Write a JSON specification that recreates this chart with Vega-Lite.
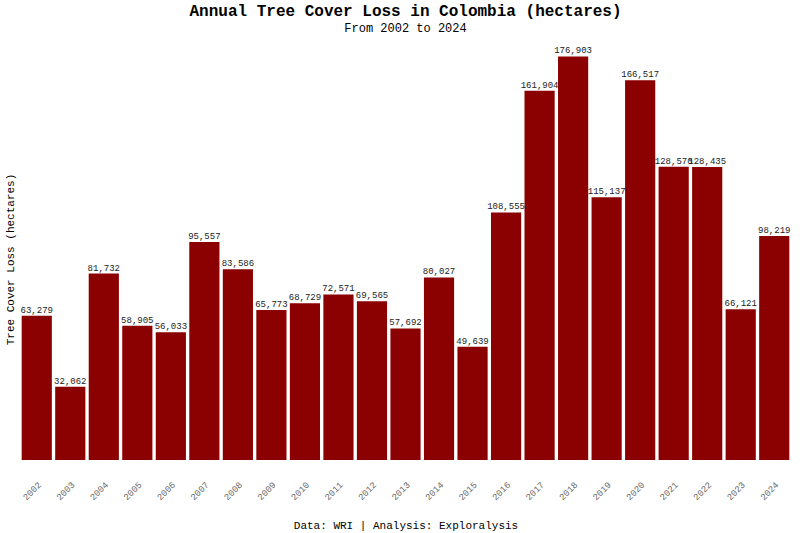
{
  "$schema": "https://vega.github.io/schema/vega-lite/v6.json",
  "autosize": {"type": "none"},
  "width": 769,
  "height": 422,
  "padding": {"left": 21, "top": 38, "right": 10, "bottom": 73},
  "background": "white",
  "title": {
    "text": "Annual Tree Cover Loss in Colombia (hectares)",
    "subtitle": "From 2002 to 2024",
    "font": "Liberation Mono",
    "fontSize": 16,
    "fontWeight": "bold",
    "color": "#000000",
    "subtitleFont": "Liberation Mono",
    "subtitleFontSize": 12,
    "subtitleColor": "#000000",
    "subtitlePadding": 4,
    "anchor": "middle",
    "offset": 4
  },
  "config": {
    "font": "Liberation Mono",
    "view": {"stroke": null}
  },
  "data": {
    "values": [
      {"year": "2002", "loss": 63279},
      {"year": "2003", "loss": 32062},
      {"year": "2004", "loss": 81732},
      {"year": "2005", "loss": 58905},
      {"year": "2006", "loss": 56033},
      {"year": "2007", "loss": 95557},
      {"year": "2008", "loss": 83586},
      {"year": "2009", "loss": 65773},
      {"year": "2010", "loss": 68729},
      {"year": "2011", "loss": 72571},
      {"year": "2012", "loss": 69565},
      {"year": "2013", "loss": 57692},
      {"year": "2014", "loss": 80027},
      {"year": "2015", "loss": 49639},
      {"year": "2016", "loss": 108555},
      {"year": "2017", "loss": 161904},
      {"year": "2018", "loss": 176903},
      {"year": "2019", "loss": 115137},
      {"year": "2020", "loss": 166517},
      {"year": "2021", "loss": 128570},
      {"year": "2022", "loss": 128435},
      {"year": "2023", "loss": 66121},
      {"year": "2024", "loss": 98219}
    ]
  },
  "encoding": {
    "x": {
      "field": "year",
      "type": "ordinal",
      "scale": {"paddingInner": 0.1, "paddingOuter": 0.02},
      "axis": {
        "title": "Data: WRI | Analysis: Exploralysis",
        "titleFont": "Liberation Mono",
        "titleFontSize": 11,
        "titleFontWeight": "normal",
        "titleColor": "#000000",
        "titlePadding": 18,
        "labelAngle": -45,
        "labelFontSize": 9,
        "labelColor": "#666666",
        "labelPadding": 20,
        "ticks": false,
        "domain": false
      }
    },
    "y": {
      "field": "loss",
      "type": "quantitative",
      "scale": {"domain": [0, 185000]},
      "axis": {
        "title": "Tree Cover Loss (hectares)",
        "titleFont": "Liberation Mono",
        "titleFontSize": 11,
        "titleFontWeight": "normal",
        "titleColor": "#000000",
        "titlePadding": 6,
        "titleY": 221,
        "labels": false,
        "ticks": false,
        "domain": false,
        "grid": false
      }
    }
  },
  "layer": [
    {
      "mark": {"type": "bar", "color": "#8B0000"}
    },
    {
      "mark": {"type": "text", "dy": -1, "baseline": "bottom", "fontSize": 9, "color": "#222222"},
      "encoding": {
        "text": {"field": "loss", "type": "quantitative", "format": ",d"}
      }
    }
  ]
}
